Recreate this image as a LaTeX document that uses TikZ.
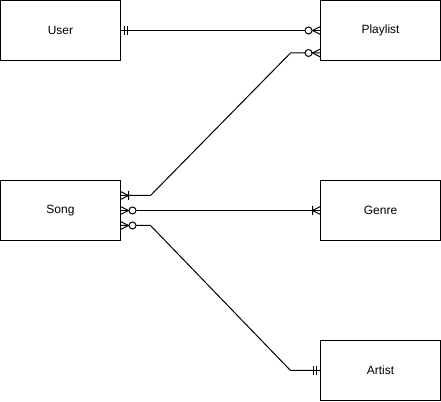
\documentclass[tikz,border=0pt]{standalone}
\usepackage{fontspec}
\setmainfont{Liberation Sans}
\usetikzlibrary{positioning}
\tikzset{
  entity/.style={draw, line width=1pt, minimum width=120pt, minimum height=60pt,
    inner sep=0pt, outer sep=0pt, font=\fontsize{12}{14}\selectfont},
  link/.style={line width=1pt},
  mandone/.pic={\draw[link] (4,-4.5) -- (4,4.5) (7,-4.5) -- (7,4.5);},
  zeromany/.pic={\draw[link] (0,4) -- (8,0) -- (0,-4);
    \draw[link, fill=white] (12,0) circle (3.5);},
  onemany/.pic={\draw[link] (0,4) -- (8,0) -- (0,-4) (8,-4.5) -- (8,4.5);},
}
\begin{document}
\begin{tikzpicture}[x=1pt, y=1pt]
    \useasboundingbox (0,0) rectangle (441,401);
    \node[entity] (user) at (60.5,370.5) {User};
    \node[entity] (playlist) [right=200pt of user] {Playlist};
    \node[entity] (song) [below=120pt of user] {Song};
    \node[entity] (genre) [below=120pt of playlist] {Genre};
    \node[entity] (artist) [below=100pt of genre] {Artist};
    % relations
    \draw[link] (user.east) -- (playlist.west);
    \draw[link] ([yshift=15pt]song.east) -- ++(30,0)
        -- ([xshift=-30pt, yshift=-22.5pt]playlist.west) -- ([yshift=-22.5pt]playlist.west);
    \draw[link] (song.east) -- (genre.west);
    \draw[link] ([yshift=-15pt]song.east) -- ++(30,0)
        -- ([xshift=-30pt]artist.west) -- (artist.west);
    % cardinality marks
    \pic at (user.east) {mandone};
    \pic[rotate=180] at (playlist.west) {zeromany};
    \pic[rotate=180] at ([yshift=-22.5pt]playlist.west) {zeromany};
    \pic at ([yshift=15pt]song.east) {onemany};
    \pic at (song.east) {zeromany};
    \pic at ([yshift=-15pt]song.east) {zeromany};
    \pic[rotate=180] at (genre.west) {onemany};
    \pic[rotate=180] at (artist.west) {mandone};
\end{tikzpicture}
\end{document}
